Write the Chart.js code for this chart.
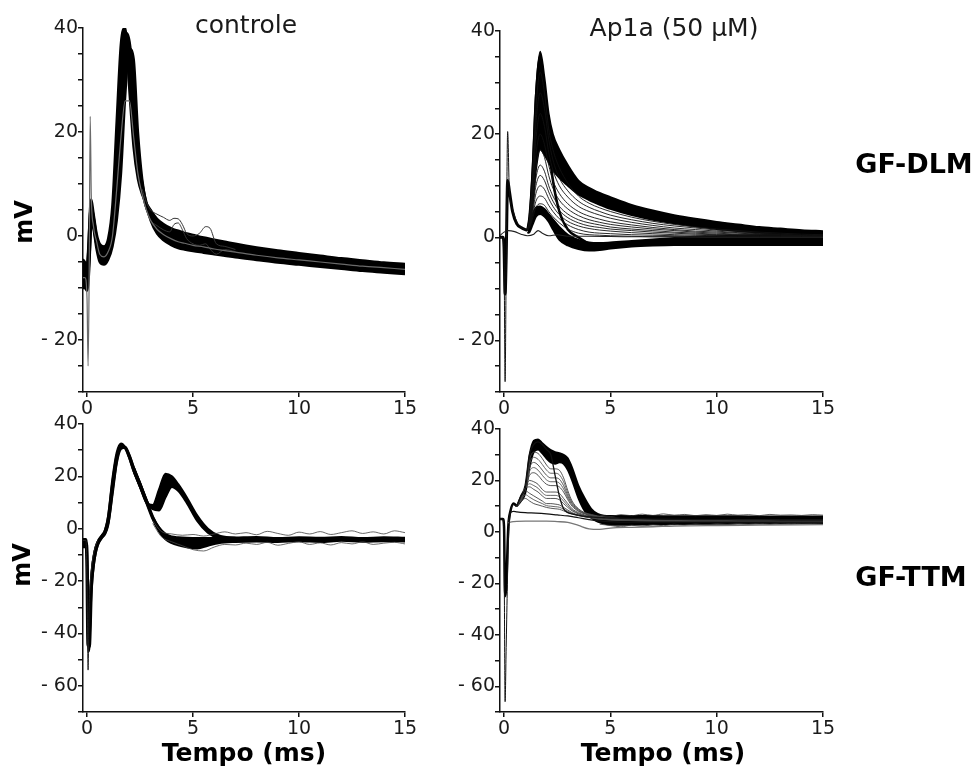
<!DOCTYPE html>
<html><head><meta charset="utf-8">
<script src="https://cdn.jsdelivr.net/npm/chart.js@4/dist/chart.umd.min.js"></script>
<style>
html,body{margin:0;padding:0;background:#fff}
body{width:978px;height:767px;position:relative;overflow:hidden;font-family:'DejaVu Sans',Verdana,sans-serif}
canvas{position:absolute;left:0;top:0}
.t{position:absolute;white-space:nowrap;color:#1a1a1a;transform:translate(-50%,-50%);line-height:1}
.b{font-weight:bold;color:#000}
.r{transform:translate(-50%,-50%) rotate(-90deg)}
</style></head><body>
<canvas id="c1" width="978" height="767"></canvas>
<canvas id="c2" width="978" height="767"></canvas>
<canvas id="c3" width="978" height="767"></canvas>
<canvas id="c4" width="978" height="767"></canvas>
<div class="t" style="left:246px;top:24px;font-size:25px">controle</div>
<div class="t" style="left:674px;top:27px;font-size:25px">Ap1a (50 μM)</div>
<div class="t b" style="left:914px;top:163px;font-size:27px">GF-DLM</div>
<div class="t b" style="left:911px;top:576px;font-size:27px">GF-TTM</div>
<div class="t b r" style="left:24px;top:222px;font-size:24px">mV</div>
<div class="t b r" style="left:22px;top:565px;font-size:24px">mV</div>
<div class="t b" style="left:244px;top:752px;font-size:25px">Tempo (ms)</div>
<div class="t b" style="left:663px;top:752px;font-size:25px">Tempo (ms)</div>
<script>
// ---------- axis ticks ----------
const X_TICKS = [0, 5, 10, 15];
const Y_TICKS_DLM = [-30,-25,-20,-15,-10,-5,0,5,10,15,20,25,30,35,40];
const Y_TICKS_TTM = [-70,-60,-50,-40,-30,-20,-10,0,10,20,30,40];
const Y_LABELS_DLM = {40:'40', 20:'20', 0:'0', '-20':'- 20'};
const Y_LABELS_TTM = {40:'40', 20:'20', 0:'0', '-20':'- 20', '-40':'- 40', '-60':'- 60'};

// ---------- GF-DLM controle ----------
const T1 = [-0.2,-0.1,0,0.05,0.1,0.15,0.2,0.3,0.45,0.6,0.8,1.0,1.2,1.4,1.6,1.8,2.0,2.2,2.4,2.6,2.8,3.0,3.3,3.6,4.0,4.3,4.6,5.0,5.5,6.0,6.5,7,8,9,10,11,12,13,14,15];
const DLM_CTRL_UPPER = [-4.5,-5,-5.5,-3,1,5.5,7,4.5,0.5,-1.5,-2,-0.5,6,22,37,40,28,17,11,8,6.3,5,3.3,2.3,1.4,1,0.6,0.2,-0.3,-0.7,-1.1,-1.5,-2.2,-2.8,-3.3,-3.8,-4.3,-4.7,-5.1,-5.4];
const DLM_CTRL_LOWER = [-10,-10,-10.5,-9.5,-6.5,-1.5,2.5,1.5,-2.5,-5,-5.5,-4.5,-2,3,12,27,36,34,20,11,6,3,0.5,-0.8,-1.8,-2.3,-2.6,-2.9,-3.2,-3.5,-3.8,-4.1,-4.6,-5.1,-5.5,-5.9,-6.3,-6.7,-7,-7.3];
const DLM_CTRL_MID = [-7.5,-7.5,-8,-6,-2.5,2.5,5,3,-1,-3.3,-3.8,-2.5,2,13,28,39,36.5,26,15,9.5,5.9,4,1.9,0.7,-0.2,-0.6,-1,-1.3,-1.7,-2.1,-2.4,-2.8,-3.4,-3.9,-4.4,-4.8,-5.3,-5.7,-6.1,-6.4];
const DLM_CTRL_GREY = [-8,-8,-12,-25,-8,23,8,2,-1,-3.5,-4,-3,0,9,19,26,26,19,12,8,5,3,1.3,0.3,-0.6,-1.1,-1.4,-1.8,-2.1,-2.5,-2.8,-3.1,-3.7,-4.2,-4.6,-5,-5.4,-5.8,-6.1,-6.4];
const TW1 = [2.6,2.8,3.0,3.3,3.6,3.9,4.1,4.3,4.5,4.7,5.0,5.3,5.6,5.8,6.1,6.5,7];
const DLM_CTRL_W1 = [9,6.5,5,4.2,3.6,3,3.4,3.3,2.2,0.5,0,0.5,1.8,1.5,-1.5,-2,-2.6];
const DLM_CTRL_W2 = [8,5,3,2,1.2,0.8,2.2,2.5,1.2,-0.5,-1.5,-1.8,-1.5,-2.5,-3.5,-2.6,-3];

// ---------- GF-DLM Ap1a ----------
const T2E = [-0.2,-0.05,0,0.05,0.1,0.17,0.25,0.4,0.6,0.8,1.0,1.1];
const DLM_AP_EARLY = [0,0,-2,-11,-4,11,9,5,2.6,1.9,1.5,1.4];
const DLM_AP_SPIKE = [0,0,-3,-28,-6,20.5,9,5.5,3,1.9,1.5,1.4];
const T2F = [1.1,1.2,1.35,1.5,1.7,1.9,2.1,2.3,2.6,3.0,3.5,4.0,4.5,5,6,7,8,9,10,11,12,13,14,15];
const DLM_AP_U1 = [1.4,4,14,28,36,31,24,20,17,14,11,9.6,8.6,7.8,6.3,5.2,4.3,3.6,3,2.5,2,1.7,1.4,1.2];
const DLM_AP_U2 = [1.3,2.5,6.5,13,17,16,14.5,13,11.5,10,8.3,7.2,6.3,5.5,4.3,3.4,2.7,2.1,1.6,1.2,0.9,0.6,0.4,0.2];
const DLM_AP_FAST = [1.4,4,13,27,35,28,18,11,5,1.5,0,-1.2,-1.6,-1.7,-1.5,-1.2,-1,-0.8,-0.7,-0.6,-0.5,-0.5,-0.4,-0.4];
const DLM_AP_L1 = [1.4,2.5,4.5,5.8,6,5.5,4.5,3.5,2,0.5,-0.5,-1,-1.1,-1,-0.7,-0.4,-0.1,0.1,0.2,0.3,0.4,0.5,0.6,0.7];
const DLM_AP_L2 = [0.8,1,2.5,4,4.5,4,3,1.5,-0.5,-1.6,-2.3,-2.6,-2.5,-2.2,-1.8,-1.6,-1.5,-1.5,-1.5,-1.5,-1.5,-1.5,-1.5,-1.5];
const DLM_AP_F32 = [1.4,3.8,12.5,25,32,28,21,17,13.5,10.5,8,6.6,5.7,5,3.9,3.1,2.5,2,1.6,1.3,1,0.8,0.6,0.5];
const DLM_AP_F28 = [1.4,3.5,11,22,28,25,19,15,11.5,9,7,5.8,5,4.3,3.4,2.7,2.2,1.8,1.4,1.1,0.8,0.6,0.4,0.3];
const DLM_AP_F24 = [1.4,3.2,10,19,24,21.5,16.5,13,10,7.8,6,5,4.3,3.7,2.9,2.3,1.8,1.5,1.2,0.9,0.7,0.5,0.3,0.2];
const DLM_AP_F20 = [1.4,3,8.5,16,20,18,14,11,8.5,6.5,5,4.1,3.5,3,2.4,1.9,1.5,1.2,1,0.8,0.6,0.4,0.3,0.2];
const DLM_AP_F17 = [1.4,2.8,7.5,13.5,17,15.5,12,9.5,7.2,5.5,4.2,3.4,2.9,2.5,2,1.6,1.3,1,0.8,0.6,0.5,0.4,0.3,0.2];
const DLM_AP_F14 = [1.4,2.6,6.5,11.5,14,12.8,10,8,6,4.5,3.4,2.8,2.4,2,1.6,1.3,1,0.8,0.6,0.5,0.4,0.3,0.2,0.1];
const DLM_AP_F12 = [1.4,2.4,5.8,10,12,11,8.8,7,5.2,3.8,2.8,2.2,1.9,1.6,1.3,1,0.8,0.6,0.5,0.4,0.3,0.2,0.1,0.1];
const DLM_AP_F10 = [1.4,2.2,5,8.5,10,9.3,7.5,6,4.4,3.1,2.2,1.7,1.4,1.2,0.9,0.7,0.5,0.4,0.3,0.3,0.2,0.2,0.1,0.1];
const DLM_AP_F8 = [1.4,2,4.4,7,8,7.6,6.2,5,3.6,2.4,1.5,1,0.8,0.7,0.5,0.4,0.3,0.2,0.2,0.1,0.1,0.1,0,0];
const DLM_AP_F6 = [1.4,1.9,3.8,5.8,6.5,6.2,5,4,2.8,1.6,0.8,0.5,0.4,0.3,0.2,0.1,0.1,0,0,0,0,0,0,0];
const TZ2 = [-0.2,0,0.2,0.5,0.8,1.1,1.4,1.6,1.8,2.1,2.5,3,4,6,8,10,12,15];
const DLM_AP_FLAT = [0.3,1,1.3,1.1,0.6,0.3,0.6,1.3,0.8,0.3,0.5,0.2,0.2,0.1,0.1,0,0,0];

// ---------- GF-TTM controle ----------
const T3 = [-0.2,-0.05,0,0.05,0.1,0.2,0.35,0.5,0.7,0.85,1.0,1.2,1.4,1.6,1.8,2.0,2.2,2.5,2.8,3.1,3.4,3.7,4.0,4.3,4.7,5.2,5.7,6.2,7,8,9,10,11,12,13,14,15];
const TTM_CTRL_A1 = [-4,-4,-10,-40,-44,-20,-9,-5,-2.5,-0.5,5,19,29,32.5,31,27,22,16,10,4.5,0.5,-2,-3,-3.3,-3.5,-3.6,-3.6,-3.5,-3.4,-3.2,-3.6,-3.3,-3.5,-3.2,-3.6,-3.3,-3.5];
const TTM_CTRL_A2 = [-7,-7,-14,-47,-46,-25,-12,-6.5,-3.5,-2,1.5,13,25,30.5,31,28,23.5,17.5,11,4,-1,-4,-5.5,-6.3,-7,-7.5,-6.5,-5.5,-5,-4.8,-5,-4.7,-5,-4.6,-4.9,-4.7,-4.8];
const TTM_CTRL_MID = [-5.5,-5.5,-12,-44,-45,-22,-10.5,-5.7,-3,-1.2,3.2,16,27,31.5,31,27.5,22.7,16.7,10.5,4.2,-0.2,-3,-4.2,-4.8,-5.2,-5.5,-5,-4.5,-4.2,-4,-4.3,-4,-4.2,-3.9,-4.2,-4,-4.1];
const TS3 = [-0.2,-0.05,0,0.05,0.1,0.2,0.35,0.5];
const TTM_CTRL_SPIKE = [-4.5,-4.5,-20,-54,-30,-16,-8,-4.5];
const TB3 = [2.2,2.5,2.8,3.1,3.4,3.7,4.0,4.3,4.7,5.2,5.7,6.2,7];
const TTM_CTRL_B1 = [22,16,10,9,15,21,20,17,12,5,0,-2.5,-3.5];
const TTM_CTRL_B2 = [23.5,17.5,11,7.5,7,12,16,14.5,10,3,-1.5,-3.5,-4];
const TN3 = [3.1,3.5,4,4.5,5,5.5,6,6.5,7,7.5,8,8.5,9,9.5,10,10.5,11,11.5,12,12.5,13,13.5,14,14.5,15];
const TTM_CTRL_N1 = [3,-1,-2,-2.5,-2.2,-2.8,-2,-1.2,-2,-1.5,-2.3,-1,-1.8,-2.5,-1.3,-2,-1.1,-2.2,-1.5,-0.8,-1.8,-1.2,-2,-0.8,-1.5];
const TTM_CTRL_N2 = [2,-3,-5,-6.5,-8,-8.5,-7,-6,-6.2,-5.5,-6,-5.2,-6.3,-5.6,-5,-6,-5.4,-6.2,-5.3,-5.8,-5,-6,-5.5,-5.2,-5.8];

// ---------- GF-TTM Ap1a ----------
const T4E = [-0.2,-0.05,0,0.05,0.1,0.2,0.3,0.45,0.6];
const TTM_AP_EARLY = [5,5,2,-25,-22,2,8,11,10];
const TTM_AP_SPIKE = [5,5,-5,-66,-45,-5,7,10.5,10];
const T4F = [0.6,0.8,1.0,1.2,1.4,1.6,1.8,2.0,2.2,2.4,2.6,2.8,3.0,3.2,3.5,3.8,4.1,4.4,4.7,5.0,5.5,6,7,8,9,10,11,12,13,14,15];
const TTM_AP_H1 = [10,14,18,30,35.5,36,34.5,33,31.8,31,30.6,30,28.6,25,18,13,9,7,6.3,6.2,6.2,6.2,6.2,6.1,6.1,6.1,6.1,6,6,6,6];
const TTM_AP_H2 = [10,12,15,25,31,32,30.5,28.5,27,26.5,27,26.5,24,20,13,8,5.5,4,3.2,2.8,2.7,2.8,2.9,3,3.1,3.1,3.2,3.2,3.2,3.3,3.3];
const TTM_AP_D = [10,14,17,30,34,35,34,32,30,22,14,9,7.5,7,6.5,6,5.8,5.6,5.5,5.4,5.3,5.2,5,4.9,4.8,4.8,4.7,4.7,4.6,4.6,4.6];
const TTM_AP_P30 = [10,13,17,28,31,30.5,28.5,26,24.5,24.5,24,21,16,12,9,7.5,6.8,6.2,5.8,5.5,5.2,5,4.8,4.8,4.7,4.7,4.6,4.6,4.5,4.5,4.5];
const TTM_AP_P28 = [10,13,17,26.5,29,28.2,26.2,24,22.8,22.8,22.2,19.5,15,11.5,8.8,7.3,6.6,6.1,5.7,5.4,5.1,5,4.8,4.8,4.7,4.7,4.6,4.6,4.5,4.5,4.5];
const TTM_AP_P26 = [10,13,17,25,27,26,24,22,21,21,20.5,18,14,11,8.5,7.2,6.5,6,5.6,5.3,5,4.9,4.7,4.7,4.6,4.6,4.5,4.5,4.4,4.4,4.4];
const TTM_AP_P24 = [10,13,17,23.5,25,24,22,20.2,19.5,19.5,19,16.7,13.2,10.5,8.2,7.1,6.4,5.9,5.5,5.2,5,4.8,4.6,4.6,4.5,4.5,4.4,4.4,4.3,4.3,4.3];
const TTM_AP_P22 = [10,13,17,22,23,22,20,18.5,18,18,17.5,15.5,12.5,10,8,7,6.3,5.8,5.4,5.1,4.9,4.8,4.6,4.6,4.5,4.5,4.4,4.4,4.3,4.3,4.3];
const TTM_AP_P19 = [10,13,17,20,19.5,18.5,16.5,15.5,15.5,15.5,15,13,11,9,7.5,6.6,6,5.6,5.2,5,4.8,4.7,4.5,4.5,4.4,4.4,4.3,4.3,4.2,4.2,4.2];
const TTM_AP_P17 = [10,13,17,18.7,18,17,15.2,14.2,14.2,14.2,13.7,12,10.2,8.6,7.2,6.4,5.9,5.5,5.2,4.9,4.7,4.6,4.4,4.4,4.3,4.3,4.2,4.2,4.1,4.1,4.1];
const TTM_AP_P16 = [10,13,17,17.5,16.5,15.5,14,13,13,13,12.5,11,9.5,8.2,7,6.3,5.8,5.4,5.1,4.9,4.7,4.6,4.4,4.4,4.3,4.3,4.2,4.2,4.1,4.1,4.1];
const TTM_AP_P13 = [10,12.5,16,15,14,13,12,11,11,10.8,10.5,9.5,8.5,7.5,6.6,6,5.6,5.2,5,4.8,4.6,4.5,4.3,4.3,4.2,4.2,4.1,4.1,4,4,4];
const TTM_AP_P11 = [10,12.2,14.5,13.5,12.5,11.7,11,10.2,10,9.8,9.6,8.8,8,7.2,6.4,5.9,5.5,5.1,4.9,4.7,4.5,4.4,4.2,4.2,4.1,4.1,4,4,3.9,3.9,3.9];
const TTM_AP_P10 = [10,12,13,12,11,10.5,10,9.5,9.2,9,8.8,8.2,7.5,7,6.3,5.8,5.4,5,4.8,4.6,4.5,4.4,4.2,4.2,4.1,4.1,4,4,3.9,3.9,3.9];
const TF4 = [0.2,0.3,0.45,0.6,1.0,1.5,2.0,2.5,3.0,3.5,4.0,4.5,5,6,7,8,10,12,15];
const TTM_AP_FLAT1 = [4,7.5,8,7.8,7.5,7.3,7,6.6,6.2,5.5,4.8,4.3,4,3.8,3.8,3.8,3.8,3.8,3.8];
const TTM_AP_FLAT2 = [3.5,3.8,4,4.1,4.2,4.2,4.2,4,3.7,2.5,1.2,1,1.5,1.8,2,2.3,2.5,2.6,2.8];
const TN4 = [4.5,5,5.5,6,6.5,7,7.5,8,8.5,9,9.5,10,10.5,11,11.5,12,12.5,13,13.5,14,14.5,15];
const TTM_AP_N1 = [6.5,6,6.7,6.3,6.9,6.4,7,6.5,6.8,6.3,6.7,6.4,6.9,6.5,6.7,6.3,6.8,6.5,6.6,6.4,6.7,6.5];
const TTM_AP_N2 = [3,2.5,2,2.6,2.2,2.8,2.4,3,2.6,3.1,2.7,3.2,2.9,3.3,3,3.4,3,3.5,3.2,3.4,3.3,3.5];

// ---------- helpers ----------
const FONT = "'DejaVu Sans', Verdana, sans-serif";
function trace(T, V, color, width, extra) {
  return Object.assign({
    data: T.map((t, i) => ({x: t, y: V[i]})),
    borderColor: color, borderWidth: width, backgroundColor: '#000',
    pointRadius: 0, fill: false, cubicInterpolationMode: 'monotone'
  }, extra || {});
}
function panel(id, area, yMin, yMax, yTicks, yLabels, datasets) {
  const YW = 60, XH = 30;
  new Chart(document.getElementById(id), {
    type: 'line',
    data: {datasets},
    options: {
      responsive: false, animation: false, events: [],
      layout: {padding: {left: area.l - YW, top: area.t, right: 978 - area.r, bottom: 767 - area.b - XH}},
      plugins: {legend: {display: false}, tooltip: {enabled: false}, title: {display: false}},
      scales: {
        x: {
          type: 'linear', min: -0.19, max: 15,
          afterFit: s => { s.height = XH; },
          afterBuildTicks: s => { s.ticks = X_TICKS.map(v => ({value: v})); },
          ticks: {color: '#1a1a1a', font: {family: FONT, size: 19}, padding: 1, maxRotation: 0, autoSkip: false,
                  callback: v => String(v)},
          grid: {drawOnChartArea: false, drawTicks: true, tickLength: 5, color: '#111', lineWidth: 1.5},
          border: {color: '#111', width: 1.5}
        },
        y: {
          type: 'linear', min: yMin, max: yMax,
          afterFit: s => { s.width = YW; },
          afterBuildTicks: s => { s.ticks = yTicks.map(v => ({value: v})); },
          ticks: {color: '#1a1a1a', font: {family: FONT, size: 19}, padding: 0, autoSkip: false,
                  callback: v => (yLabels[v] !== undefined ? yLabels[v] : '')},
          grid: {drawOnChartArea: false, drawTicks: true, tickLength: 5, color: '#111', lineWidth: 1.5},
          border: {color: '#111', width: 1.5}
        }
      }
    }
  });
}

// ---------- panels ----------
panel('c1', {l: 83, t: 28, r: 405, b: 392}, -30, 40, Y_TICKS_DLM, Y_LABELS_DLM, [
  trace(T1, DLM_CTRL_GREY, '#6a6a6a', 1.2),
  trace(TW1, DLM_CTRL_W1, '#333', 1),
  trace(TW1, DLM_CTRL_W2, '#333', 1),
  trace(T1, DLM_CTRL_MID, '#000', 4),
  trace(T1, DLM_CTRL_UPPER, '#000', 2.5, {fill: 5}),
  trace(T1, DLM_CTRL_LOWER, '#000', 2.5)
]);

panel('c2', {l: 500, t: 31, r: 823, b: 392}, -30, 40, Y_TICKS_DLM, Y_LABELS_DLM, [
  trace(T2E, DLM_AP_SPIKE, '#111', 1),
  trace(TZ2, DLM_AP_FLAT, '#222', 1.1),
  trace(T2F, DLM_AP_F6, '#111', 0.9),
  trace(T2F, DLM_AP_F8, '#111', 0.9),
  trace(T2F, DLM_AP_F10, '#111', 0.9),
  trace(T2F, DLM_AP_F12, '#111', 0.9),
  trace(T2F, DLM_AP_F14, '#111', 0.9),
  trace(T2F, DLM_AP_F17, '#111', 0.9),
  trace(T2F, DLM_AP_F20, '#111', 0.9),
  trace(T2F, DLM_AP_F24, '#111', 0.9),
  trace(T2F, DLM_AP_F28, '#111', 0.9),
  trace(T2F, DLM_AP_F32, '#111', 0.9),
  trace(T2F, DLM_AP_FAST, '#000', 2.5),
  trace(T2F, DLM_AP_U1, '#000', 1.8, {fill: 14}),
  trace(T2F, DLM_AP_U2, '#000', 1.8),
  trace(T2F, DLM_AP_L1, '#000', 1.8, {fill: 16}),
  trace(T2F, DLM_AP_L2, '#000', 1.8),
  trace(T2E, DLM_AP_EARLY, '#000', 3)
]);

panel('c3', {l: 83, t: 424, r: 405, b: 712}, -70, 40, Y_TICKS_TTM, Y_LABELS_TTM, [
  trace(TS3, TTM_CTRL_SPIKE, '#222', 1),
  trace(TN3, TTM_CTRL_N1, '#444', 0.8),
  trace(TN3, TTM_CTRL_N2, '#444', 0.8),
  trace(TB3, TTM_CTRL_B1, '#000', 2.2, {fill: 4}),
  trace(TB3, TTM_CTRL_B2, '#000', 2.2),
  trace(T3, TTM_CTRL_MID, '#000', 3.5),
  trace(T3, TTM_CTRL_A1, '#000', 2.2, {fill: 7}),
  trace(T3, TTM_CTRL_A2, '#000', 2.2)
]);

panel('c4', {l: 500, t: 429, r: 823, b: 712}, -70, 40, Y_TICKS_TTM, Y_LABELS_TTM, [
  trace(T4E, TTM_AP_SPIKE, '#111', 1),
  trace(TF4, TTM_AP_FLAT2, '#777', 1.3),
  trace(TF4, TTM_AP_FLAT1, '#111', 1.2),
  trace(T4F, TTM_AP_D, '#111', 1.3),
  trace(T4F, TTM_AP_P10, '#444', 0.9),
  trace(T4F, TTM_AP_P11, '#555', 0.9),
  trace(T4F, TTM_AP_P13, '#444', 0.9),
  trace(T4F, TTM_AP_P16, '#444', 0.9),
  trace(T4F, TTM_AP_P17, '#555', 0.9),
  trace(T4F, TTM_AP_P19, '#444', 0.9),
  trace(T4F, TTM_AP_P22, '#444', 0.9),
  trace(T4F, TTM_AP_P24, '#555', 0.9),
  trace(T4F, TTM_AP_P26, '#444', 0.9),
  trace(T4F, TTM_AP_P28, '#555', 0.9),
  trace(T4F, TTM_AP_P30, '#444', 0.9),
  trace(TN4, TTM_AP_N1, '#333', 0.8),
  trace(TN4, TTM_AP_N2, '#333', 0.8),
  trace(T4F, TTM_AP_H1, '#000', 1.8, {fill: 18}),
  trace(T4F, TTM_AP_H2, '#000', 1.8),
  trace(T4E, TTM_AP_EARLY, '#000', 2.5)
]);
</script>
</body></html>
